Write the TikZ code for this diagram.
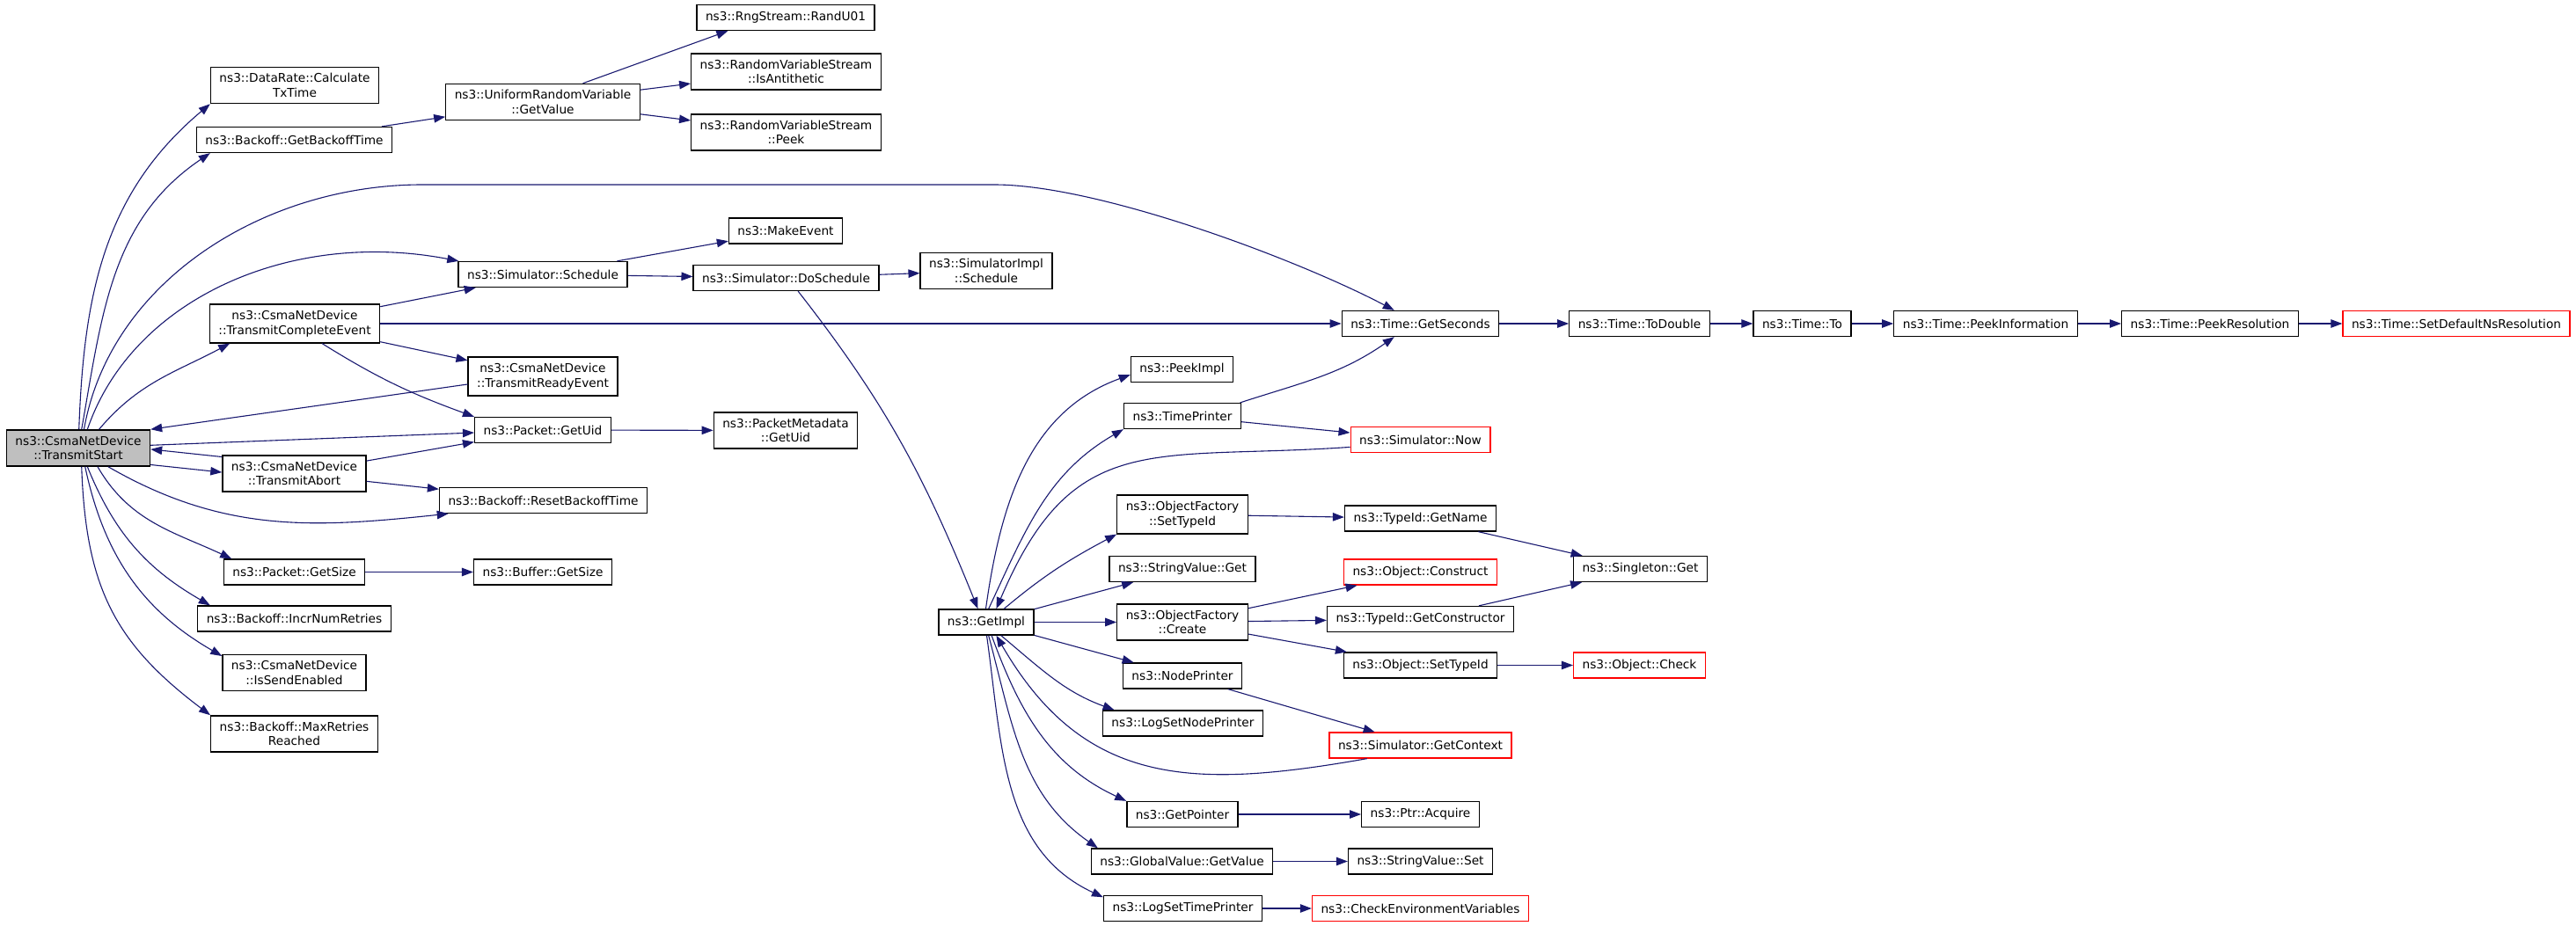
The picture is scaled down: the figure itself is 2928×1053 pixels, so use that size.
\documentclass[tikz,border=0pt]{standalone}
\usepackage{fontspec}
\setmainfont{DejaVu Sans}
\usetikzlibrary{arrows.meta}

\definecolor{callblue}{HTML}{191970}
\definecolor{rootgray}{HTML}{BFBFBF}

\tikzset{
  fn/.style={draw=black, line width=0.65pt, fill=white, rectangle, align=center,
    inner xsep=5pt, inner ysep=3.5pt, minimum height=14.5pt,
    font=\fontsize{6.85}{8.3}\selectfont},
  fnred/.style={fn, draw=red},
  fnroot/.style={fn, fill=rootgray},
  call/.style={draw=callblue, line width=0.55pt, -{Triangle[length=6.5pt,width=4.75pt]}},
}

\begin{document}
\begin{tikzpicture}[x=0.5pt, y=-0.5pt]
  \useasboundingbox (0,0) rectangle (2928,1053);

  \node[fnroot] (ts) at (89,509.5) {ns3::CsmaNetDevice\\::TransmitStart};

  \node[fn] (calc)    at (335,97)    {ns3::DataRate::Calculate\\TxTime};
  \node[fn] (gbt)     at (334.5,159) {ns3::Backoff::GetBackoffTime};
  \node[fn] (tce)     at (335,368)   {ns3::CsmaNetDevice\\::TransmitCompleteEvent};
  \node[fn] (abort)   at (334.5,538.5) {ns3::CsmaNetDevice\\::TransmitAbort};
  \node[fn] (psize)   at (334.5,650.5) {ns3::Packet::GetSize};
  \node[fn] (incr)    at (334.5,703.5) {ns3::Backoff::IncrNumRetries};
  \node[fn] (sendok)  at (334.5,765)   {ns3::CsmaNetDevice\\::IsSendEnabled};
  \node[fn] (maxret)  at (334.5,834.5) {ns3::Backoff::MaxRetries\\Reached};

  \node[fn] (urv)     at (617,116)   {ns3::UniformRandomVariable\\::GetValue};
  \node[fn] (sched)   at (617,312)   {ns3::Simulator::Schedule};
  \node[fn] (tre)     at (617,428)   {ns3::CsmaNetDevice\\::TransmitReadyEvent};
  \node[fn] (uid)     at (617,489)   {ns3::Packet::GetUid};
  \node[fn] (reset)   at (617.5,569) {ns3::Backoff::ResetBackoffTime};
  \node[fn] (bsize)   at (617,650.5) {ns3::Buffer::GetSize};

  \node[fn] (rand)    at (893,20)      {ns3::RngStream::RandU01};
  \node[fn] (anti)    at (893.5,81.5)  {ns3::RandomVariableStream\\::IsAntithetic};
  \node[fn] (peek)    at (893.5,150.5) {ns3::RandomVariableStream\\::Peek};
  \node[fn] (mkev)    at (893,262.5)   {ns3::MakeEvent};
  \node[fn] (dosched) at (893.5,316)   {ns3::Simulator::DoSchedule};
  \node[fn] (metauid) at (893,489.5)   {ns3::PacketMetadata\\::GetUid};

  \node[fn] (implsched) at (1121,308)  {ns3::SimulatorImpl\\::Schedule};
  \node[fn] (getimpl)   at (1121,707.5) {ns3::GetImpl};

  \node[fn] (peekimpl) at (1343.5,420) {ns3::PeekImpl};
  \node[fn] (tprint)   at (1344,473)   {ns3::TimePrinter};
  \node[fn] (ofsettid) at (1344,585)   {ns3::ObjectFactory\\::SetTypeId};
  \node[fn] (svget)    at (1344,647)   {ns3::StringValue::Get};
  \node[fn] (create)   at (1344,707.5) {ns3::ObjectFactory\\::Create};
  \node[fn] (nprint)   at (1344,768.5) {ns3::NodePrinter};
  \node[fn] (lognode)  at (1344.5,822.5) {ns3::LogSetNodePrinter};
  \node[fn] (getptr)   at (1344,926)   {ns3::GetPointer};
  \node[fn] (gvget)    at (1343.5,979.5) {ns3::GlobalValue::GetValue};
  \node[fn] (logtime)  at (1344.5,1033) {ns3::LogSetTimePrinter};

  \node[fn]    (secs)      at (1614.5,368)   {ns3::Time::GetSeconds};
  \node[fnred] (now)       at (1614.5,500)   {ns3::Simulator::Now};
  \node[fn]    (getname)   at (1614.5,589.5) {ns3::TypeId::GetName};
  \node[fnred] (construct) at (1614.5,650.5) {ns3::Object::Construct};
  \node[fn]    (getctor)   at (1614.5,704)   {ns3::TypeId::GetConstructor};
  \node[fn]    (objsettid) at (1614.5,756.5) {ns3::Object::SetTypeId};
  \node[fnred] (ctx)       at (1614.5,847.5) {ns3::Simulator::GetContext};
  \node[fn]    (acquire)   at (1614.5,926)   {ns3::Ptr::Acquire};
  \node[fn]    (svset)     at (1614.5,979.5) {ns3::StringValue::Set};
  \node[fnred] (envvars)   at (1614.5,1033)  {ns3::CheckEnvironmentVariables};

  \node[fn]    (todbl)    at (1863.5,368)   {ns3::Time::ToDouble};
  \node[fn]    (single)   at (1864.5,647)   {ns3::Singleton::Get};
  \node[fnred] (check)    at (1863.5,756.5) {ns3::Object::Check};
  \node[fn]    (timeto)   at (2048.5,368)   {ns3::Time::To};
  \node[fn]    (peekinfo) at (2257,368)     {ns3::Time::PeekInformation};
  \node[fn]    (peekres)  at (2512,368)     {ns3::Time::PeekResolution};
  \node[fnred] (setres)   at (2792,368)     {ns3::Time::SetDefaultNsResolution};

  \draw[call] (ts.88) to[out=88,in=220] (calc.south west);
  \draw[call] (ts.80) to[out=80,in=214] (gbt.189);
  \draw[call] (gbt) -- (urv);
  \draw[call] (urv.25) -- (rand.193);
  \draw[call] (urv) -- (anti);
  \draw[call] (urv) -- (peek);
  \draw[call] (ts.73) .. controls (125,320) and (300,210) .. (480,210) -- (1130,210)
    .. controls (1250,210) and (1477,296) .. (secs.153);
  \draw[call] (ts.64) .. controls (150,340) and (330,260) .. (sched.171);
  \draw[call] (ts.42) to[out=50,in=208] (tce.197);
  \draw[call] (tce) -- (sched);
  \draw[call] (tce) -- (secs);
  \draw[call] (tce) -- (tre);
  \draw[call] (tce.324) to[out=-32,in=160] (uid.north west);
  \draw[call] (sched) -- (mkev);
  \draw[call] (sched) -- (dosched);
  \draw[call] (dosched) -- (implsched);
  \draw[call] (dosched.312) to[out=-52,in=112] (getimpl.122);
  \draw[call] (tre.186) -- (ts.north east);
  \draw[call] (ts) -- (uid);
  \draw[call] (ts.347) -- (abort.179);
  \draw[call] (abort.167) -- (ts.359);
  \draw[call] (abort) -- (uid);
  \draw[call] (abort) -- (reset);
  \draw[call] (ts.328) to[out=-30,in=186] (reset.188);
  \draw[call] (ts.316) to[out=-60,in=155] (psize.168);
  \draw[call] (psize) -- (bsize);
  \draw[call] (ts.296) to[out=-68,in=150] (incr.171);
  \draw[call] (ts.290) to[out=-78,in=150] (sendok.167);
  \draw[call] (ts.280) to[out=-88,in=143,looseness=1.1] (maxret.north west);
  \draw[call] (uid) -- (metauid);

  \draw[call] (secs) -- (todbl);
  \draw[call] (todbl) -- (timeto);
  \draw[call] (timeto) -- (peekinfo);
  \draw[call] (peekinfo) -- (peekres);
  \draw[call] (peekres) -- (setres);

  \draw[call] (getimpl.92) to[out=82,in=200] (peekimpl.186);
  \draw[call] (getimpl.80) to[out=65,in=210] (tprint.south west);
  \draw[call] (tprint.13) to[out=18,in=215] (secs.207);
  \draw[call] (tprint) -- (now);
  \draw[call] (now.186) to[out=184,in=67,looseness=1.3] (getimpl.53);
  \draw[call] (getimpl.37) to[out=40,in=208] (ofsettid.south west);
  \draw[call] (ofsettid) -- (getname);
  \draw[call] (getname) -- (single);
  \draw[call] (getimpl) -- (svget);
  \draw[call] (getimpl) -- (create);
  \draw[call] (create) -- (construct);
  \draw[call] (create) -- (getctor);
  \draw[call] (create) -- (objsettid);
  \draw[call] (getctor) -- (single);
  \draw[call] (objsettid) -- (check);
  \draw[call] (getimpl) -- (nprint);
  \draw[call] (nprint) -- (ctx);
  \draw[call] (getimpl.318) to[out=-40,in=160] (lognode.169);
  \draw[call] (ctx.194) to[out=190,in=-60,looseness=1.15] (getimpl.307);
  \draw[call] (getimpl.292) to[out=-70,in=155] (getptr.north west);
  \draw[call] (getptr) -- (acquire);
  \draw[call] (getimpl.280) to[out=-75,in=145] (gvget.171);
  \draw[call] (gvget) -- (svset);
  \draw[call] (getimpl.272) to[out=-82,in=155] (logtime.172);
  \draw[call] (logtime) -- (envvars);
\end{tikzpicture}
\end{document}
